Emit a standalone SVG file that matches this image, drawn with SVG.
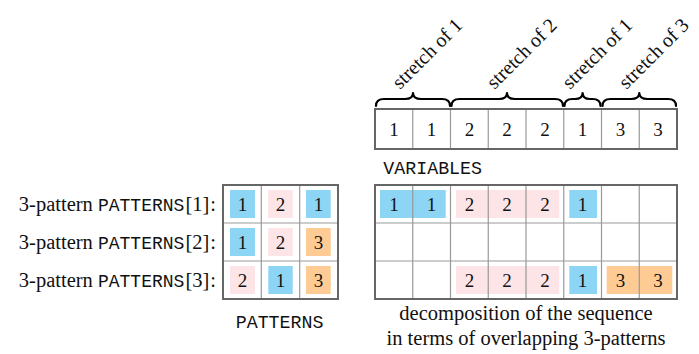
<svg xmlns="http://www.w3.org/2000/svg" width="699" height="354" viewBox="0 0 699 354">
<style>
.serif{font-family:"Liberation Serif","Times New Roman",serif;fill:#111}
.num{font-family:"Liberation Serif","Times New Roman",serif;font-size:19px;fill:#111;text-anchor:middle}
.mono{font-family:"Liberation Mono","Courier New",monospace;fill:#111}
.inner{stroke:#999;stroke-width:1.2;fill:none}
.outer{stroke:#666;stroke-width:2;fill:none}
.blue{fill:#8dd5f5}
.pink{fill:#fde4e6}
.orange{fill:#fecb95}
.brace{fill:none;stroke:#000;stroke-width:2.2;stroke-linejoin:round;stroke-linecap:round}
.lab{font-family:"Liberation Serif","Times New Roman",serif;font-size:20px;fill:#111}
</style>

<!-- braces and labels -->
<g id="braces">
  <path class="brace" d="M376,106 Q376,99 384,99 L405,99 Q413,99 413,93 Q413,99 421,99 L442,99 Q450,99 450,106"/>
  <path class="brace" d="M451.5,106 Q451.5,99 459.5,99 L499,99 Q507,99 507,93 Q507,99 515,99 L555,99 Q563,99 563,106"/>
  <path class="brace" d="M564.5,106 Q564.5,99 572.5,99 L575,99 Q582.6,99 582.6,93 Q582.6,99 590,99 L592.5,99 Q600.5,99 600.5,106"/>
  <path class="brace" d="M602.5,106 Q602.5,99 610.5,99 L631,99 Q639.3,99 639.3,93 Q639.3,99 647.5,99 L668,99 Q676,99 676,106"/>
  <text class="lab" transform="translate(400,90) rotate(-45)">stretch of 1</text>
  <text class="lab" transform="translate(494.5,90) rotate(-45)">stretch of 2</text>
  <text class="lab" transform="translate(570,90) rotate(-45)">stretch of 1</text>
  <text class="lab" transform="translate(626.5,90) rotate(-45)">stretch of 3</text>
</g>

<!-- VARIABLES row -->
<g id="variables">
  <path class="inner" d="M412.75,109V149M450.5,109V149M488.25,109V149M526,109V149M563.75,109V149M601.5,109V149M639.25,109V149"/>
  <rect class="outer" x="375" y="109" width="302" height="40" stroke-width="1.6"/>
  <text class="num" x="393.9" y="135.5">1</text>
  <text class="num" x="431.6" y="135.5">1</text>
  <text class="num" x="469.4" y="135.5">2</text>
  <text class="num" x="507.1" y="135.5">2</text>
  <text class="num" x="544.9" y="135.5">2</text>
  <text class="num" x="582.6" y="135.5">1</text>
  <text class="num" x="620.4" y="135.5">3</text>
  <text class="num" x="658.1" y="135.5">3</text>
  <text class="mono" x="383.3" y="174" font-size="18.3">VARIABLES</text>
</g>

<!-- PATTERNS grid -->
<g id="patterns">
  <rect class="blue" x="230" y="190" width="25" height="28"/>
  <rect class="pink" x="268.3" y="190" width="24.4" height="28"/>
  <rect class="blue" x="306" y="190" width="24.7" height="28"/>
  <rect class="blue" x="230" y="228" width="25" height="28"/>
  <rect class="pink" x="268.3" y="228" width="24.4" height="28"/>
  <rect class="orange" x="306" y="228" width="24.7" height="28"/>
  <rect class="pink" x="230" y="266" width="25" height="28"/>
  <rect class="blue" x="268.3" y="266" width="24.4" height="28"/>
  <rect class="orange" x="306" y="266" width="24.7" height="28"/>
  <path class="inner" d="M261.3,185V299M299.7,185V299M223,223H338M223,261H338"/>
  <rect class="outer" x="223" y="185" width="115" height="114"/>
  <text class="num" x="242.5" y="211">1</text>
  <text class="num" x="280.5" y="211">2</text>
  <text class="num" x="318.4" y="211">1</text>
  <text class="num" x="242.5" y="249">1</text>
  <text class="num" x="280.5" y="249">2</text>
  <text class="num" x="318.4" y="249">3</text>
  <text class="num" x="242.5" y="287">2</text>
  <text class="num" x="280.5" y="287">1</text>
  <text class="num" x="318.4" y="287">3</text>
  <text class="mono" x="235.7" y="328" font-size="18.3">PATTERNS</text>
</g>

<!-- row labels -->
<g id="labels">
  <text class="serif" x="216" y="211" font-size="20.5" text-anchor="end">3-pattern <tspan class="mono" font-size="18">PATTERNS</tspan><tspan dx="1">[1]</tspan><tspan dx="1">:</tspan></text>
  <text class="serif" x="216" y="249" font-size="20.5" text-anchor="end">3-pattern <tspan class="mono" font-size="18">PATTERNS</tspan><tspan dx="1">[2]</tspan><tspan dx="1">:</tspan></text>
  <text class="serif" x="216" y="287" font-size="20.5" text-anchor="end">3-pattern <tspan class="mono" font-size="18">PATTERNS</tspan><tspan dx="1">[3]</tspan><tspan dx="1">:</tspan></text>
</g>

<!-- decomposition grid -->
<g id="decomposition">
  <rect class="blue" x="380" y="190" width="65.7" height="28"/>
  <rect class="pink" x="456" y="190" width="103.3" height="28"/>
  <rect class="blue" x="569.3" y="190" width="27.7" height="28"/>
  <rect class="pink" x="456" y="266" width="103.3" height="28"/>
  <rect class="blue" x="569.3" y="266" width="27.7" height="28"/>
  <rect class="orange" x="606.7" y="266" width="65.6" height="28"/>
  <path class="inner" d="M412.75,185V299M450.5,185V299M488.25,185V299M526,185V299M563.75,185V299M601.5,185V299M639.25,185V299M375,223H677M375,261H677"/>
  <rect class="outer" x="375" y="185" width="302" height="114"/>
  <text class="num" x="393.9" y="211">1</text>
  <text class="num" x="431.6" y="211">1</text>
  <text class="num" x="469.4" y="211">2</text>
  <text class="num" x="507.1" y="211">2</text>
  <text class="num" x="544.9" y="211">2</text>
  <text class="num" x="582.6" y="211">1</text>
  <text class="num" x="469.4" y="287">2</text>
  <text class="num" x="507.1" y="287">2</text>
  <text class="num" x="544.9" y="287">2</text>
  <text class="num" x="582.6" y="287">1</text>
  <text class="num" x="620.4" y="287">3</text>
  <text class="num" x="658.1" y="287">3</text>
  <text class="serif" x="526" y="320" font-size="20.5" text-anchor="middle">decomposition of the sequence</text>
  <text class="serif" x="526" y="345" font-size="20.5" text-anchor="middle">in terms of overlapping 3-patterns</text>
</g>
</svg>
